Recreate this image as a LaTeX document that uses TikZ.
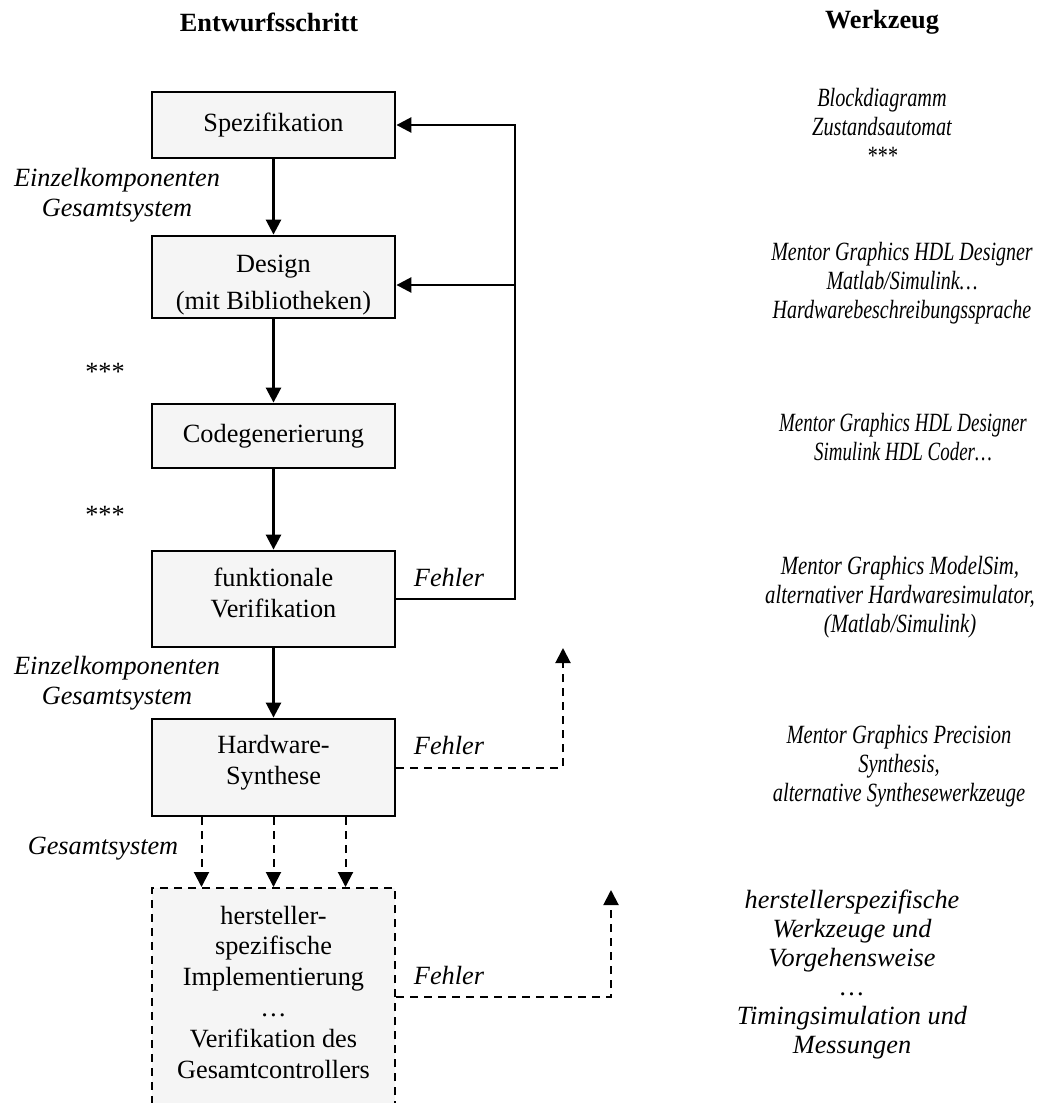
\documentclass[tikz,border=0pt]{standalone}
\usepackage{fontspec}
\usepackage{graphicx}
\setmainfont{Liberation Serif}
\usetikzlibrary{arrows.meta,calc}

% horizontally condensed, centred block of lines
\newcommand\condensed[2]{\scalebox{#1}[1]{\begin{tabular}{@{}c@{}}#2\end{tabular}}}

\begin{document}
\begin{tikzpicture}[x=0.5pt,y=-0.5pt,
  every node/.style={font=\fontsize{13.15}{15.4}\selectfont, inner sep=0pt},
  stepbox/.style={draw, line width=1.4pt, fill=black!4, minimum width=121.5pt, align=center},
  dashbox/.style={draw, line width=1pt, dash pattern=on 4pt off 3pt, fill=black!4, minimum width=121.5pt},
  head/.style={font=\fontsize{13.15}{15}\selectfont\bfseries},
  tool/.style={align=center, font=\fontsize{13.15}{14.5}\selectfont\itshape},
  note/.style={align=center, font=\fontsize{13.15}{15}\selectfont\itshape},
  arr/.style={line width=1.3pt, -{Triangle[length=7.5pt,width=7.5pt]}},
  darr/.style={line width=1pt, dash pattern=on 4pt off 3pt, -{Triangle[length=7.5pt,width=7.5pt]}}
]
\useasboundingbox (0,0) rectangle (1042,1103);

% column headings
\node[head] (h1) at (269,22) {Entwurfsschritt};
\node[head] (h2) at (882,22) {Werkzeug};

% design steps
\node[stepbox, minimum height=33pt]   (spez)   at (273.5,125)   {Spezifikation};
\node[stepbox, minimum height=41pt]   (design) at (273.5,277)   {\rule{0pt}{17pt}Design\\[3pt](mit Bibliotheken)};
\node[stepbox, minimum height=48pt]   (verif)  at (273.5,599)   {funktionale\\Verifikation\rule[-6pt]{0pt}{0pt}};
\node[stepbox, minimum height=32pt]   (code)   at (273.5,436)   {Codegenerierung};
\node[stepbox, minimum height=48.5pt] (synth)  at (273.5,767.5) {Hardware-\\Synthese\rule[-8pt]{0pt}{0pt}};
\node[dashbox, minimum height=122pt]  (impl)   at (273.5,1010)  {};
\node[align=center] (impltext) at (273.5,992)
  {hersteller-\\spezifische\\Implementierung\\…\\Verifikation des\\Gesamtcontrollers};

% main flow
\draw[arr] (spez) -- (design);
\draw[arr] (design) -- (code);
\draw[arr] (code) -- (verif);
\draw[arr] (verif) -- (synth);
\foreach \dx in {-72,0,72}
  \draw[darr] ($(synth.south)+(\dx,0)$) -- ($(impl.north)+(\dx,0)$);

% error feedback
\coordinate (fbx) at (515,0);
\coordinate (fbdesign) at (515,285);
\draw[arr] (verif.east) -- (verif.east -| fbx) |- (spez.east);
\draw[arr] (fbdesign) -- (design.east |- fbdesign);

\coordinate (err2) at (563,648);
\draw[darr] (synth.east) -| (err2);

\coordinate (err3) at (611,890);
\coordinate (err3y) at (0,997);
\draw[darr] (impl.east |- err3y) -| (err3);

\node[note] (f1) at (449,577) {Fehler};
\node[note] (f2) at (449,745) {Fehler};
\node[note] (f3) at (449,975) {Fehler};

% notes on the left
\node[note] (n1) at (117,195) {Einzelkomponenten\\Gesamtsystem};
\node (n2) at (105,372) {***};
\node (n3) at (105,515) {***};
\node[note] (n4) at (117,683) {Einzelkomponenten\\Gesamtsystem};
\node[note] (n5) at (103,849) {Gesamtsystem};

% tools
\node[tool] (t1) at (882,130) {\condensed{0.77}{Blockdiagramm\\Zustandsautomat\\{}***}};
\node[tool] (t2) at (902,284) {\condensed{0.76}{Mentor Graphics HDL Designer\\Matlab/Simulink…\\Hardwarebeschreibungssprache}};
\node[tool] (t3) at (903,440) {\condensed{0.72}{Mentor Graphics HDL Designer\\Simulink HDL Coder…}};
\node[tool] (t4) at (900,598) {\condensed{0.79}{Mentor Graphics ModelSim,\\alternativer Hardwaresimulator,\\(Matlab/Simulink)}};
\node[tool] (t5) at (899,767) {\condensed{0.78}{Mentor Graphics Precision\\Synthesis,\\alternative Synthesewerkzeuge}};
\node[tool] (t6) at (852,975) {herstellerspezifische\\Werkzeuge und\\Vorgehensweise\\…\\Timingsimulation und\\Messungen};
\end{tikzpicture}
\end{document}
